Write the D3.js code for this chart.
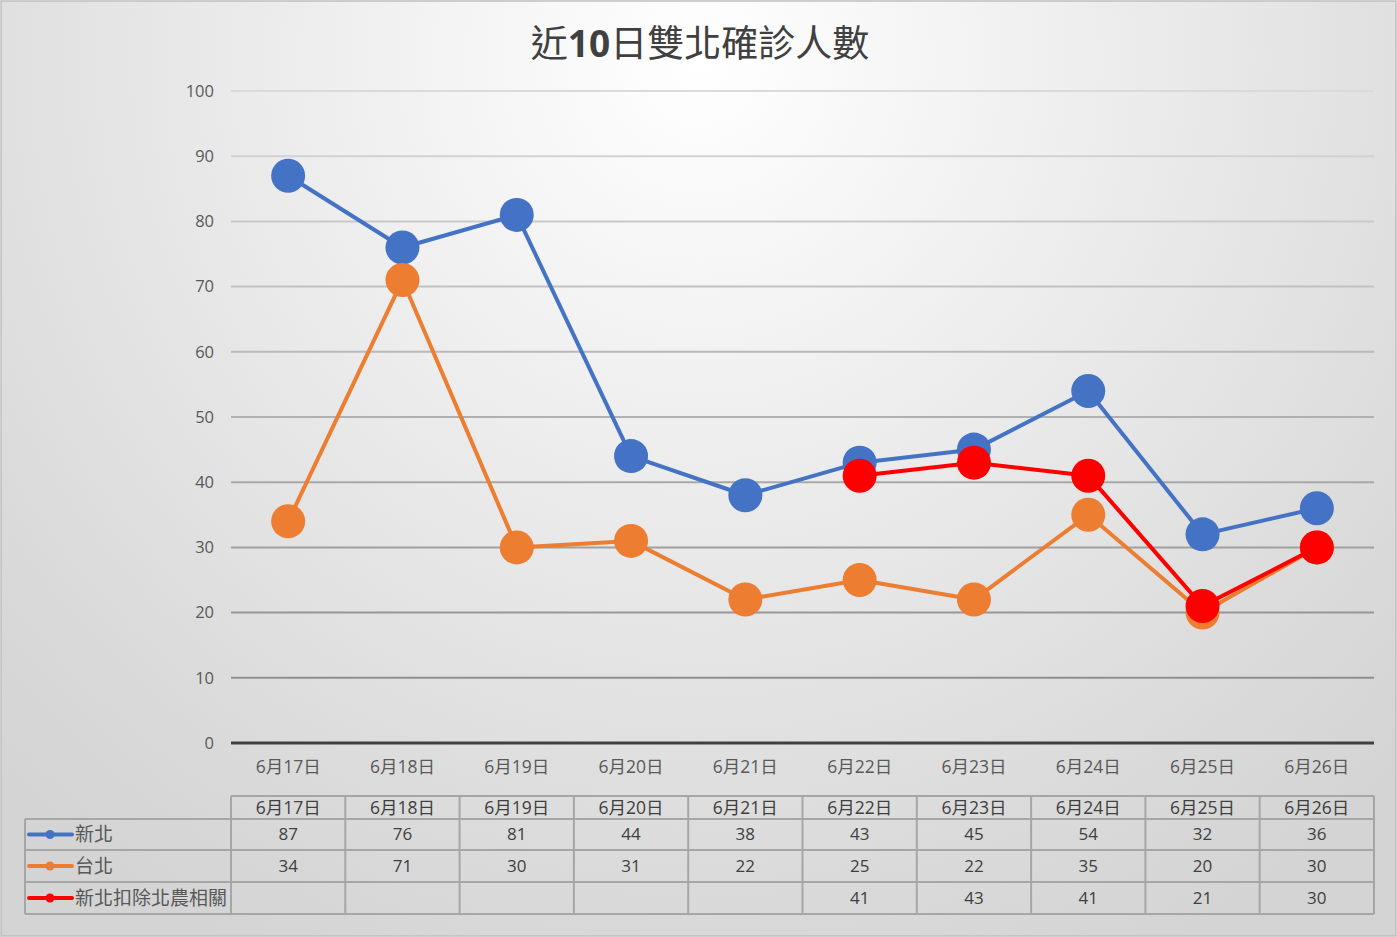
<!DOCTYPE html>
<html><head><meta charset="utf-8">
<script src="https://cdn.jsdelivr.net/npm/d3@7"></script>
<style>html,body{margin:0;padding:0;background:#fff;}svg{display:block;}</style>
</head><body>
<svg id="c" width="1397" height="937"></svg>
<script>
const categories = ["6月17日","6月18日","6月19日","6月20日","6月21日","6月22日","6月23日","6月24日","6月25日","6月26日"];
const seriesNames = ["新北","台北","新北扣除北農相關"];
const newTaipei = [87,76,81,44,38,43,45,54,32,36];
const taipei = [34,71,30,31,22,25,22,35,20,30];
const newTaipeiExcl = [null,null,null,null,null,41,43,41,21,30];
const seriesColors = ["#4472c4","#ed7d31","#ff0000"];
const yTicks = [0,10,20,30,40,50,60,70,80,90,100];
const title = "近10日雙北確診人數";

const series = [newTaipei, taipei, newTaipeiExcl];
const svg = d3.select("#c");
const W = 1397, H = 937;
const font = "'Open Sans','Noto Sans CJK TC',sans-serif";

const defs = svg.append("defs");
const rg = defs.append("radialGradient").attr("id","bg")
  .attr("gradientUnits","userSpaceOnUse").attr("cx",700).attr("cy",60).attr("r",1000);
rg.append("stop").attr("offset","0").attr("stop-color","#ffffff");
rg.append("stop").attr("offset","0.85").attr("stop-color","#d9d9d9");
rg.append("stop").attr("offset","1").attr("stop-color","#d4d4d4");

svg.append("rect").attr("x",1).attr("y",1).attr("width",W-2).attr("height",H-2)
  .attr("fill","url(#bg)").attr("stroke","#bfbfbf").attr("stroke-width",1.5);

// title
const t = svg.append("text").attr("x",700).attr("y",57).attr("text-anchor","middle")
  .attr("font-size",37).attr("fill","#404040").attr("font-family","'Noto Sans CJK TC',sans-serif");
t.append("tspan").text(title.slice(0,1));
t.append("tspan").attr("font-weight","bold").attr("font-family","'Open Sans',sans-serif").text(title.slice(1,3));
t.append("tspan").text(title.slice(3));

const x = d3.scaleBand().domain(categories).range([231,1374]);
const y = d3.scaleLinear().domain([0,100]).range([743,91]);
const gridColor = d3.scaleLinear().domain([100,10]).range(["#dadada","#8f8f8f"]);

// gridlines
svg.append("g").selectAll("line").data(yTicks.filter(d=>d>0)).join("line")
  .attr("x1",231).attr("x2",1374).attr("y1",d=>y(d)).attr("y2",d=>y(d))
  .attr("stroke",d=>gridColor(d)).attr("stroke-width",2);

// y axis labels
const yAxis = d3.axisLeft(y).tickValues(yTicks).tickSize(0).tickPadding(0);
const yg = svg.append("g").attr("transform","translate(214,0)").call(yAxis);
yg.select(".domain").remove();
yg.selectAll("text").attr("font-size",16.5).attr("fill","#595959").attr("font-family",font).attr("dy","0.32em");

// zero axis line
svg.append("line").attr("x1",231).attr("x2",1374).attr("y1",y(0)).attr("y2",y(0))
  .attr("stroke","#404040").attr("stroke-width",3);

// x axis labels
const xAxis = d3.axisBottom(x).tickSize(0).tickPadding(0);
const xg = svg.append("g").attr("transform","translate(0,767)").call(xAxis);
xg.select(".domain").remove();
xg.selectAll("text").attr("font-size",17.5).attr("fill","#595959").attr("font-family",font).attr("dy","0.35em");

// lines and markers
const cx = c => x(c) + x.bandwidth()/2;
series.forEach((s,i)=>{
  const pts = categories.map((c,j)=>({c, v:s[j]}));
  const line = d3.line().defined(d=>d.v!=null).x(d=>cx(d.c)).y(d=>y(d.v));
  const g = svg.append("g");
  g.append("path").datum(pts).attr("d",line).attr("fill","none")
    .attr("stroke",seriesColors[i]).attr("stroke-width",4).attr("stroke-linejoin","round");
  g.selectAll("circle").data(pts.filter(d=>d.v!=null)).join("circle")
    .attr("cx",d=>cx(d.c)).attr("cy",d=>y(d.v)).attr("r",17).attr("fill",seriesColors[i]);
});

// data table
const tableColor = "#a6a6a6";
const rowY = [796,819,850,882,914];
const tg = svg.append("g");
tg.append("line").attr("x1",231).attr("x2",1374).attr("y1",rowY[0]).attr("y2",rowY[0]).attr("stroke",tableColor).attr("stroke-width",2);
for(let r=1;r<rowY.length;r++){
  tg.append("line").attr("x1",25).attr("x2",1374).attr("y1",rowY[r]).attr("y2",rowY[r]).attr("stroke",tableColor).attr("stroke-width",2);
}
const vx = categories.map(c=>x(c)).concat([1374]);
vx.forEach(v=>{
  tg.append("line").attr("x1",v).attr("x2",v).attr("y1",rowY[0]).attr("y2",rowY[4]).attr("stroke",tableColor).attr("stroke-width",2);
});
tg.append("line").attr("x1",25).attr("x2",25).attr("y1",rowY[1]).attr("y2",rowY[4]).attr("stroke",tableColor).attr("stroke-width",2);

tg.selectAll("text.h").data(categories).join("text").attr("class","h")
  .attr("x",d=>cx(d)).attr("y",(rowY[0]+rowY[1])/2).attr("dy","0.35em").attr("text-anchor","middle")
  .attr("font-size",17.5).attr("fill","#404040").attr("font-family",font).text(d=>d);

series.forEach((s,i)=>{
  const ym = (rowY[i+1]+rowY[i+2])/2;
  tg.append("line").attr("x1",29).attr("x2",72).attr("y1",ym).attr("y2",ym)
    .attr("stroke",seriesColors[i]).attr("stroke-width",4).attr("stroke-linecap","round");
  tg.append("circle").attr("cx",50).attr("cy",ym).attr("r",4.5).attr("fill",seriesColors[i]);
  tg.append("text").attr("x",75).attr("y",ym).attr("dy","0.35em")
    .attr("font-size",19).attr("fill","#595959").attr("font-family","'Noto Sans CJK TC',sans-serif").text(seriesNames[i]);
  tg.selectAll("text.v"+i).data(categories.map((c,j)=>({c,v:s[j]})).filter(d=>d.v!=null)).join("text")
    .attr("class","v"+i).attr("x",d=>cx(d.c)).attr("y",ym).attr("dy","0.35em").attr("text-anchor","middle")
    .attr("font-size",17).attr("fill","#404040").attr("font-family",font).text(d=>d.v);
});
</script>
</body></html>
